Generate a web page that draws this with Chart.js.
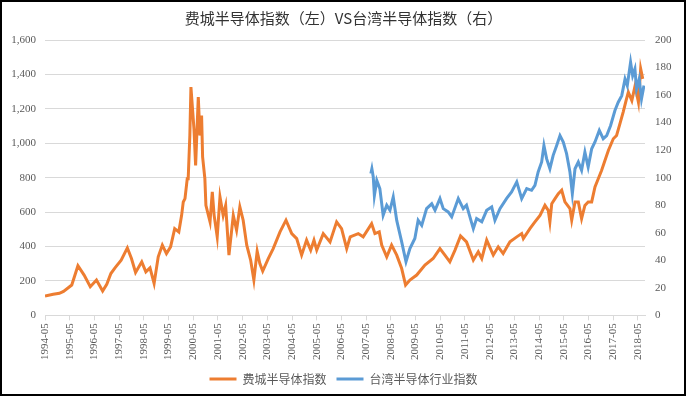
<!DOCTYPE html>
<html>
<head>
<meta charset="utf-8">
<script src="https://cdn.jsdelivr.net/npm/chart.js@4.4.1/dist/chart.umd.min.js"></script>
<style>
  html, body { margin: 0; padding: 0; background: #fff; overflow: hidden; }
  canvas { display: block; }
</style>
</head>
<body>
<canvas id="semiChart" width="687" height="398"></canvas>
<script>
// Philadelphia semiconductor index (left axis)
const soxDates = [
    "1994-05", "1994-09", "1994-12", "1995-02", "1995-06", "1995-09", "1995-12", "1996-03",
    "1996-06", "1996-09", "1996-11", "1997-01", "1997-03", "1997-06", "1997-09", "1997-11",
    "1998-01", "1998-04", "1998-06", "1998-08", "1998-10", "1998-12", "1999-02", "1999-04",
    "1999-06", "1999-08", "1999-10", "1999-11-12", "1999-12-06", "2000-01-01", "2000-02-04", "2000-02-18",
    "2000-03-12", "2000-03-28", "2000-05-12", "2000-06-06", "2000-07-15", "2000-08-09", "2000-09-03", "2000-09-18",
    "2000-10-21", "2000-11-06", "2001-01-06", "2001-02-09", "2001-03-06", "2001-04-21", "2001-06-01", "2001-07-18",
    "2001-08-24", "2001-10-12", "2001-12-15", "2002-02-03", "2002-03-21", "2002-05-09", "2002-07-01", "2002-08-28",
    "2002-10-15", "2002-12-03", "2003-01-12", "2003-02-24", "2003-05-15", "2003-07-27", "2003-11-06", "2004-02-03",
    "2004-04-27", "2004-07-09", "2004-09-21", "2004-12-03", "2005-02-03", "2005-03-21", "2005-05-01", "2005-08-06",
    "2005-11-15", "2006-02-21", "2006-05-03", "2006-07-18", "2006-09-09", "2007-01-06", "2007-03-18", "2007-07-21",
    "2007-09-09", "2007-11-12", "2007-12-18", "2008-03-01", "2008-05-12", "2008-07-27", "2008-10-09", "2008-12-06",
    "2009-02-09", "2009-05-18", "2009-09-18", "2010-01-18", "2010-04-27", "2010-07-09", "2010-09-21", "2010-12-06",
    "2011-02-27", "2011-05-24", "2011-09-03", "2011-11-15", "2012-01-06", "2012-03-18", "2012-06-24", "2012-09-06",
    "2012-11-18", "2013-02-27", "2013-06-06", "2013-08-18", "2013-09-12", "2013-12-18", "2014-03-01", "2014-05-15",
    "2014-07-27", "2014-09-15", "2014-10-09", "2014-11-06", "2014-12-24", "2015-02-12", "2015-04-01", "2015-05-18",
    "2015-08-01", "2015-08-27", "2015-10-15", "2015-12-03", "2016-01-21", "2016-03-09", "2016-04-27", "2016-06-18",
    "2016-08-06", "2016-09-24", "2016-11-12", "2017-01-01", "2017-02-21", "2017-05-03", "2017-06-21", "2017-08-09",
    "2017-09-27", "2017-11-09", "2017-12-12", "2018-02-03", "2018-03-21", "2018-05-09", "2018-06-12", "2018-07-12"
];
const soxValues = [
    112, 122, 128, 139, 176, 288, 234, 166,
    205, 141, 180, 243, 276, 321, 392, 330,
    249, 311, 253, 276, 185, 340, 408, 359,
    398, 504, 485, 581, 659, 678, 794, 794,
    1045, 1326, 1084, 871, 1268, 1045, 1161, 920,
    794, 639, 543, 717, 581, 456, 688, 581,
    639, 350, 581, 495, 630, 553, 408, 321,
    205, 373, 301, 257, 330, 388, 485, 553,
    475, 446, 350, 437, 379, 437, 379, 475,
    427, 543, 504, 388, 456, 475, 456, 533,
    475, 485, 408, 340, 408, 350, 272, 176,
    205, 234, 292, 330, 388, 350, 311, 379,
    462, 427, 321, 369, 330, 437, 350, 398,
    359, 427, 456, 475, 446, 504, 543, 581,
    639, 610, 543, 649, 678, 707, 727, 659,
    620, 553, 659, 659, 562, 639, 659, 659,
    746, 794, 842, 900, 958, 1026, 1045, 1113,
    1181, 1248, 1297, 1248, 1335, 1239, 1432, 1374
];

// Taiwan semiconductor index (right axis)
const twDates = [
    "2007-07-10", "2007-07-25", "2007-08-15", "2007-09-01", "2007-10-06", "2007-11-21", "2008-01-09", "2008-03-01",
    "2008-04-18", "2008-06-06", "2008-07-27", "2008-10-09", "2008-12-12", "2009-02-09", "2009-04-21", "2009-06-09",
    "2009-08-01", "2009-10-12", "2009-12-27", "2010-02-15", "2010-04-27", "2010-06-15", "2010-08-27", "2010-10-18",
    "2011-01-24", "2011-04-06", "2011-05-24", "2011-09-03", "2011-10-21", "2012-01-06", "2012-03-18", "2012-06-01",
    "2012-07-18", "2012-10-01", "2013-01-09", "2013-03-21", "2013-06-06", "2013-08-18", "2013-11-01", "2014-01-12",
    "2014-03-01", "2014-04-18", "2014-06-09", "2014-07-12", "2014-08-21", "2014-10-09", "2014-11-27", "2015-01-18",
    "2015-03-06", "2015-04-24", "2015-06-12", "2015-08-01", "2015-09-06", "2015-10-15", "2015-12-03", "2016-01-21",
    "2016-03-09", "2016-04-27", "2016-06-18", "2016-08-06", "2016-10-09", "2016-12-06", "2017-01-27", "2017-03-24",
    "2017-05-27", "2017-07-15", "2017-09-06", "2017-10-24", "2017-11-27", "2018-01-15", "2018-02-15", "2018-03-18",
    "2018-04-12", "2018-05-21", "2018-06-24", "2018-07-30"
];
const twValues = [
    103, 106.5, 100.5, 87, 98, 92, 72.7, 80,
    76.3, 86, 69, 53.4, 38.9, 48.5, 55.8, 69,
    65.4, 77.5, 81, 76.3, 84.8, 77.5, 75.1, 71.5,
    84.8, 77.5, 80, 63, 70.3, 67.9, 76.3, 78.8,
    69, 77.5, 85, 89.6, 96.9, 84.8, 92, 90.8,
    94.4, 104.1, 111.4, 123.4, 113.8, 106.5, 116.2, 123.4,
    130.6, 125.9, 117.4, 104.1, 88.4, 106.5, 111.4, 105.3,
    118.6, 107.7, 121, 125.9, 134.3, 128.3, 130.6, 137.9,
    148.8, 154.8, 159.6, 171.7, 166.9, 183.8, 174.1, 179,
    164.5, 171.7, 157.2, 166.9
];

const xTickLabels = [
    "1994-05", "1995-05", "1996-05", "1997-05", "1998-05", "1999-05", "2000-05", "2001-05", "2002-05",
    "2003-05", "2004-05", "2005-05", "2006-05", "2007-05", "2008-05", "2009-05", "2010-05", "2011-05",
    "2012-05", "2013-05", "2014-05", "2015-05", "2016-05", "2017-05", "2018-05"
];
const xEnd = "2018-08-15";

// "YYYY-MM" or "YYYY-MM-DD" -> decimal year
function toYear(s) {
    const p = s.split("-").map(Number);
    return p[0] + (p[1] - 1) / 12 + ((p[2] || 1) - 1) / 365;
}

const tickFont = { family: "Liberation Serif, serif", size: 11 };
const textGrey = "#595959";

const frame = {
    id: "frame",
    beforeDraw(chart) {
        const c = chart.ctx;
        c.save();
        c.fillStyle = "#fff";
        c.fillRect(0, 0, chart.width, chart.height);
        c.restore();
    },
    afterDraw(chart) {
        const c = chart.ctx;
        c.save();
        c.strokeStyle = "#000";
        c.lineWidth = 2;
        c.strokeRect(1, 1, 684, 394);
        c.restore();
    }
};

const ctx = document.getElementById("semiChart").getContext("2d");
new Chart(ctx, {
    type: "line",
    data: {
        datasets: [{
            label: "费城半导体指数",
            data: soxDates.map((d, i) => ({ x: toYear(d), y: soxValues[i] })),
            borderColor: "#ED7D31",
            backgroundColor: "#ED7D31",
            borderWidth: 3,
            pointRadius: 0,
            yAxisID: "y",
            order: 2
        }, {
            label: "台湾半导体行业指数",
            data: twDates.map((d, i) => ({ x: toYear(d), y: twValues[i] })),
            borderColor: "#5B9BD5",
            backgroundColor: "#5B9BD5",
            borderWidth: 3,
            pointRadius: 0,
            yAxisID: "y1",
            order: 1
        }]
    },
    options: {
        responsive: false,
        animation: false,
        devicePixelRatio: 1,
        layout: { padding: { left: 0, right: 0, top: 0, bottom: 3 } },
        plugins: {
            title: {
                display: true,
                text: "费城半导体指数（左）VS台湾半导体指数（右）",
                font: { family: "Noto Sans CJK SC", size: 15, weight: "normal" },
                color: "#333",
                padding: { top: 9, bottom: 13 }
            },
            legend: {
                position: "bottom",
                reverse: true,
                labels: {
                    usePointStyle: true,
                    pointStyle: "line",
                    pointStyleWidth: 27,
                    boxWidth: 27,
                    font: { family: "Noto Sans CJK SC", size: 12 },
                    color: textGrey,
                    padding: 10
                }
            },
            tooltip: { enabled: false }
        },
        scales: {
            x: {
                type: "linear",
                min: toYear(xTickLabels[0]),
                max: toYear(xEnd),
                afterBuildTicks: s => { s.ticks = xTickLabels.map(t => ({ value: toYear(t) })); },
                ticks: {
                    autoSkip: false,
                    minRotation: 90,
                    maxRotation: 90,
                    padding: 3,
                    font: tickFont,
                    color: textGrey,
                    callback: (v, i) => xTickLabels[i]
                },
                grid: { drawOnChartArea: false, tickLength: 5, color: "#d9d9d9" },
                border: { color: "#d9d9d9" }
            },
            y: {
                position: "left",
                min: 0,
                max: 1600,
                afterFit: s => { s.width = 45; },
                ticks: {
                    stepSize: 200,
                    padding: 9,
                    font: tickFont,
                    color: textGrey,
                    callback: v => v.toLocaleString("en-US")
                },
                grid: { color: "#d9d9d9", drawTicks: false },
                border: { display: false }
            },
            y1: {
                position: "right",
                min: 0,
                max: 200,
                afterFit: s => { s.width = 42; },
                ticks: { stepSize: 20, padding: 10, font: tickFont, color: textGrey },
                grid: { display: false, drawTicks: false },
                border: { display: false }
            }
        }
    },
    plugins: [frame]
});
</script>
</body>
</html>
